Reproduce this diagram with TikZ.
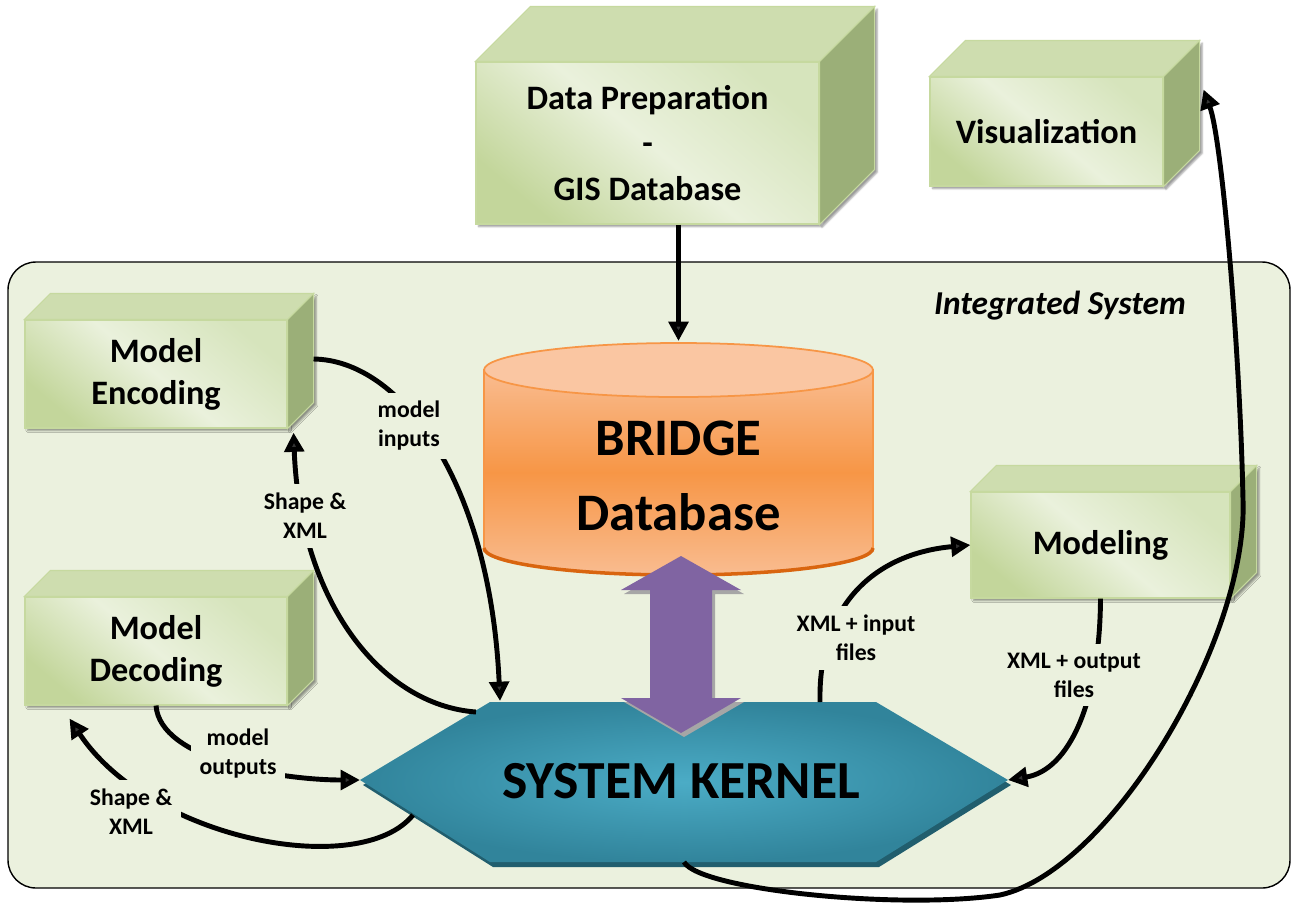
\documentclass[tikz,border=0pt]{standalone}
\usepackage{fontspec}
\setmainfont{Carlito}
\usepackage{tikz}
\usetikzlibrary{arrows.meta,positioning,shadows.blur,calc,fit}
\definecolor{blocklight}{HTML}{EAF1DC}
\definecolor{blockmid}{HTML}{D6E4BC}
\definecolor{blockdark}{HTML}{C3D69B}
\definecolor{blocktop}{HTML}{CEDDAF}
\definecolor{blockside}{HTML}{9BAF78}
\definecolor{blockedge}{HTML}{C6D99F}
\definecolor{sysfill}{HTML}{EBF1DE}
\definecolor{cyltop}{HTML}{FAC6A2}
\definecolor{cylbody}{HTML}{F9BC90}
\definecolor{cylmid}{HTML}{F79646}
\definecolor{cylrim}{HTML}{D9650F}
\definecolor{kernlight}{HTML}{4BACC6}
\definecolor{kerndark}{HTML}{31849B}
\definecolor{kernshadow}{HTML}{215E6E}
\definecolor{duplex}{HTML}{8064A2}

\newcommand{\greenblock}[5]{%
  \node[blockfront,fit={#2 #3}] (#1) {};
  \fill[blockface,fill=blocktop] (#1.north west) -- ++(#4,-#4) -- ($(#1.north east)+(#4,-#4)$) -- (#1.north east) -- cycle;
  \fill[blockface,fill=blockside,blur shadow={shadow xshift=1.5pt,shadow yshift=-1.5pt,shadow blur radius=1pt,shadow opacity=40}] (#1.north east) -- ++(#4,-#4) -- ($(#1.south east)+(#4,-#4)$) -- (#1.south east) -- cycle;
  \node[blocktext] (#1-label) at (#1.center) {#5};
}

\begin{document}
\begin{tikzpicture}[x=0.02cm,y=-0.02cm,
    blockfront/.style={inner sep=0pt,draw=blockedge,line width=0.6pt,top color=blockmid,bottom color=blockdark,middle color=blocklight,shading angle=-40,blur shadow={shadow xshift=1.5pt,shadow yshift=-1.5pt,shadow blur radius=1pt,shadow opacity=40}},
    blockface/.style={draw=blockedge,line width=0.6pt},
    blocktext/.style={font=\fontsize{19.5}{24}\selectfont\bfseries,align=center},
    lbl/.style={font=\fontsize{13.5}{16.5}\selectfont\bfseries,align=center,fill=sysfill,inner sep=5pt},
    link/.style={line width=2.8pt,-{Triangle[length=11pt,width=11pt]}}]
    \useasboundingbox (0,0) rectangle (1292,904);

    \node[draw,line width=0.8pt,fill=sysfill,rounded corners=0.56cm,inner sep=0pt,fit={(8,262) (1290,888)}] (system) {};
    \node[font=\fontsize{19}{23}\selectfont\bfseries\itshape] (systitle) at (1060,306) {Integrated System};

    \greenblock{prep}{(476,62)}{(819,224)}{55}{Data Preparation\\[2pt]-\\[2pt]GIS Database}
    \greenblock{vis}{(930,77)}{(1163,186)}{36}{Visualization}
    \greenblock{enc}{(25,320)}{(287,428)}{26}{Model\\Encoding}
    \greenblock{dec}{(25,597)}{(287,705)}{26}{Model\\Decoding}
    \greenblock{mod}{(971,492)}{(1230,598)}{26}{Modeling}

    \shade[top color=cylbody,bottom color=cylbody,middle color=cylmid,draw=cylmid,line width=1pt] (484,370) -- (484,548) arc[start angle=180,end angle=0,x radius=194.5,y radius=27] -- (873,370) -- cycle;
    \draw[cylrim,line width=2pt] (484,548) arc[start angle=180,end angle=0,x radius=194.5,y radius=27];
    \filldraw[fill=cyltop,draw=cylmid,line width=1pt] (678.5,370) ellipse[x radius=194.5,y radius=27];
    \node[font=\fontsize{30}{43}\selectfont\bfseries,align=center] (bridge) at (678.5,476) {BRIDGE\\Database};
    \coordinate (bridgetop) at (678.5,341);

    \fill[kernshadow,shift={(3,5)}] (490,702) -- (876,702) -- (1008,780) -- (876,862) -- (490,862) -- (360,780) -- cycle;
    \shade[inner color=kernlight,outer color=kerndark] (490,702) -- (876,702) -- (1008,780) -- (876,862) -- (490,862) -- (360,780) -- cycle;
    \node[font=\fontsize{30.5}{36}\selectfont\bfseries] (kernel) at (681,781) {SYSTEM KERNEL};
    \coordinate (kw) at (360,780);
    \coordinate (ke) at (1008,780);
    \coordinate (ks) at (684,862);
    \coordinate (kin) at (500,701);
    \coordinate (knw) at (476,712);
    \coordinate (ksw) at (413,815);
    \coordinate (kne) at (820,702);

    \fill[black!35,shift={(3,4)}] (681,556) -- (741,590) -- (712,590) -- (712,698) -- (741,698) -- (681,733) -- (621,698) -- (650,698) -- (650,590) -- (621,590) -- cycle;
    \fill[duplex] (681,556) -- (741,590) -- (712,590) -- (712,698) -- (741,698) -- (681,733) -- (621,698) -- (650,698) -- (650,590) -- (621,590) -- cycle;

    \draw[link] (bridgetop |- prep.south) -- (bridgetop);
    \draw[link] ([shift={(26,-15)}]enc.east) .. controls (400,360) and (490,480) .. (kin);
    \draw[link] (knw) .. controls (380,705) and (300,600) .. ([shift={(6,4)}]enc.south east);
    \draw[link] (dec.south) .. controls (160,760) and (280,780) .. (kw);
    \draw[link] (ksw) .. controls (360,880) and (150,840) .. ([shift={(45,13)}]dec.south west);
    \draw[link] (kne) .. controls (818,600) and (880,553) .. (mod.west);
    \draw[link] (mod.south) .. controls (1100,700) and (1070,770) .. (ke);
    \draw[link] (ks) .. controls (700,890) and (900,910) .. (1000,895) .. controls (1110,871) and (1248,640) .. (1243,500) .. controls (1240,350) and (1222,140) .. ([shift={(40,13)}]vis.north east);

    \node[lbl] (lblin) at (409,426) {model\\inputs};
    \node[lbl] (lblenc) at (305,516) {Shape \&\\XML};
    \node[lbl] (lblout) at (238,754) {model\\outputs};
    \node[lbl] (lbldec) at (131,812) {Shape \&\\XML};
    \node[lbl] (lblxin) at (856,638) {XML + input\\files};
    \node[lbl] (lblxout) at (1074,675) {XML + output\\files};
\end{tikzpicture}
\end{document}
